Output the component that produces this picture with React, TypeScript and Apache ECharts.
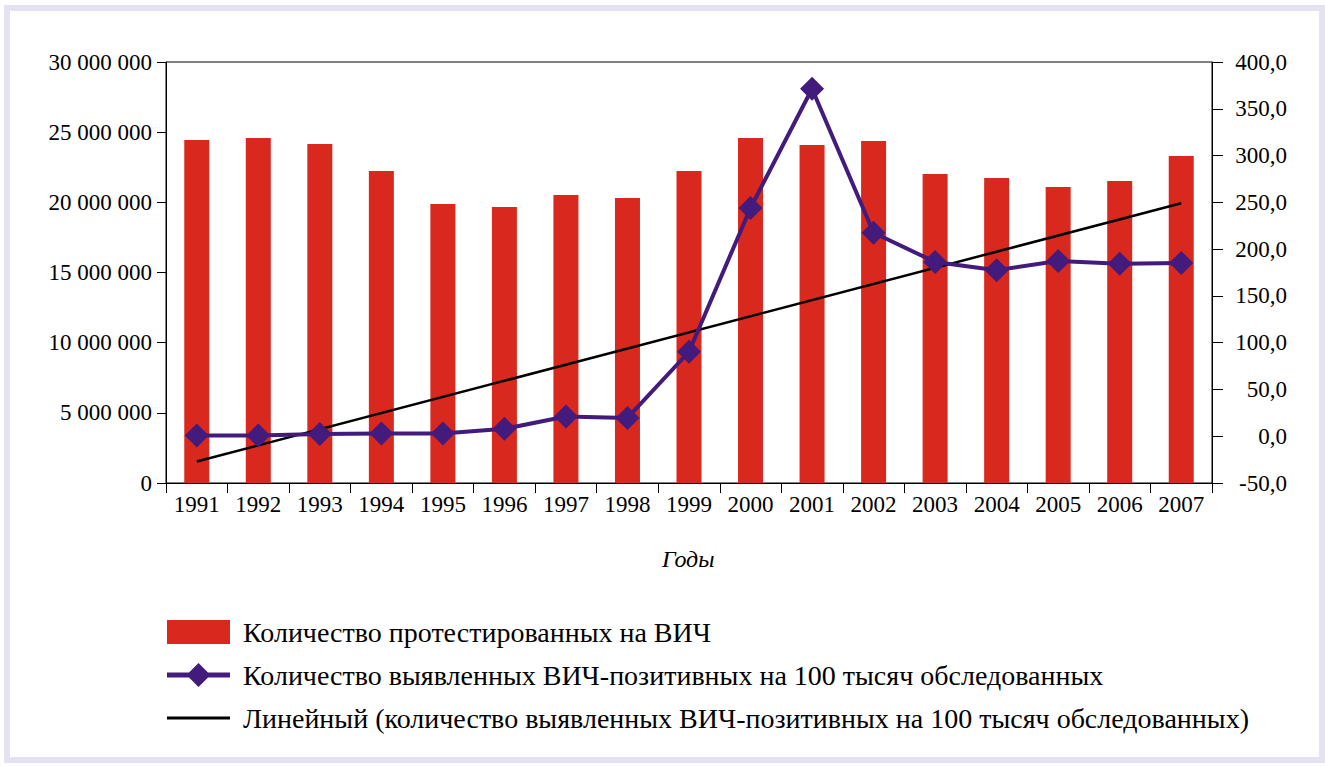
import React, { useEffect, useRef } from "react";
import * as echarts from "echarts";

const years = ["1991","1992","1993","1994","1995","1996","1997","1998","1999","2000","2001","2002","2003","2004","2005","2006","2007"];
const tested = [24440000,24580000,24160000,22230000,19880000,19670000,20520000,20310000,22230000,24580000,24090000,24370000,22020000,21730000,21090000,21520000,23300000];
const positivePer100k = [0.7,0.7,2.5,2.8,2.8,7.9,21.0,19.6,90.3,244.0,371.4,217.5,186.2,177.4,187.3,184.4,185.2];
const trendStart = -27;
const trendEnd = 249;

const nameBar = "Количество протестированных на ВИЧ";
const nameLine = "Количество выявленных ВИЧ-позитивных на 100 тысяч обследованных";
const nameTrend = "Линейный (количество выявленных ВИЧ-позитивных на 100 тысяч обследованных)";
const xTitle = "Годы";

const FONT = "Liberation Serif";

function fmtLeft(v: number) {
  return String(Math.round(v)).replace(/\B(?=(\d{3})+(?!\d))/g, " ");
}
function fmtRight(v: number) {
  return v.toFixed(1).replace(".", ",");
}

export default function App() {
  const ref = useRef<HTMLDivElement>(null);
  useEffect(() => {
    if (!ref.current) return;
    const chart = echarts.init(ref.current, null, { renderer: "svg" });
    chart.setOption({
      animation: false,
      backgroundColor: "#ffffff",
      graphic: [
        {
          type: "rect",
          shape: { x: 7, y: 8, width: 1315, height: 752 },
          style: { fill: "none", stroke: "#e5e3f1", lineWidth: 6 },
          silent: true,
        },
        {
          type: "text",
          left: 662,
          top: 547,
          style: { text: xTitle, fontFamily: FONT, fontStyle: "italic", fontSize: 24, fill: "#000" },
        },
      ],
      grid: {
        left: 166,
        right: 113,
        top: 62,
        bottom: 283,
        show: true,
        borderColor: "#000",
        borderWidth: 1,
        backgroundColor: "transparent",
      },
      legend: {
        orient: "vertical",
        left: 167,
        top: 618,
        padding: 0,
        itemWidth: 63,
        itemHeight: 24,
        itemGap: 15,
        textStyle: { fontFamily: FONT, fontSize: 28, color: "#000", padding: [0, 0, 0, 8] },
        data: [
          { name: nameBar, icon: "rect" },
          { name: nameLine, icon: "path://M0,0M0,24M0,9.5L63,9.5L63,14.5L0,14.5Z M31.5,0L43.5,12L31.5,24L19.5,12Z" },
          { name: nameTrend, icon: "path://M0,0M0,24M0,10.5L63,10.5L63,13.5L0,13.5Z" },
        ],
      },
      xAxis: [
        {
          type: "category",
          data: years,
          boundaryGap: true,
          axisLine: { lineStyle: { color: "#000", width: 1 } },
          axisTick: { show: true, length: 10, lineStyle: { color: "#000" } },
          axisLabel: { fontFamily: FONT, fontSize: 23, color: "#000", margin: 10 },
        },
      ],
      yAxis: [
        {
          type: "value",
          min: 0,
          max: 30000000,
          interval: 5000000,
          position: "left",
          splitLine: { show: false },
          axisLine: { show: true, lineStyle: { color: "#000" } },
          axisTick: { show: true, length: 9, lineStyle: { color: "#000" } },
          axisLabel: { fontFamily: FONT, fontSize: 23, color: "#000", margin: 14, formatter: fmtLeft },
        },
        {
          type: "value",
          min: -50,
          max: 400,
          interval: 50,
          position: "right",
          splitLine: { show: false },
          axisLine: { show: true, lineStyle: { color: "#000" } },
          axisTick: { show: true, length: 11, lineStyle: { color: "#000" } },
          axisLabel: {
            fontFamily: FONT,
            fontSize: 23,
            color: "#000",
            align: "right",
            margin: 75,
            formatter: fmtRight,
          },
        },
      ],
      series: [
        {
          name: nameBar,
          type: "bar",
          data: tested,
          yAxisIndex: 0,
          barWidth: 25,
          itemStyle: { color: "#d9281d" },
        },
        {
          name: nameTrend,
          type: "line",
          yAxisIndex: 1,
          data: [
            [years[0], trendStart],
            [years[years.length - 1], trendEnd],
          ],
          symbol: "none",
          lineStyle: { color: "#000", width: 2.5 },
          itemStyle: { color: "#000" },
          z: 3,
        },
        {
          name: nameLine,
          type: "line",
          yAxisIndex: 1,
          data: positivePer100k,
          symbol: "diamond",
          symbolSize: 24,
          lineStyle: { color: "#421b7c", width: 4 },
          itemStyle: { color: "#421b7c" },
          z: 4,
        },
      ],
    });
    return () => chart.dispose();
  }, []);
  return (
    <div style={{ position: "absolute", left: 0, top: 0, width: 1325, height: 766, background: "#fff" }}>
      <div ref={ref} style={{ width: 1325, height: 766 }} />
    </div>
  );
}
